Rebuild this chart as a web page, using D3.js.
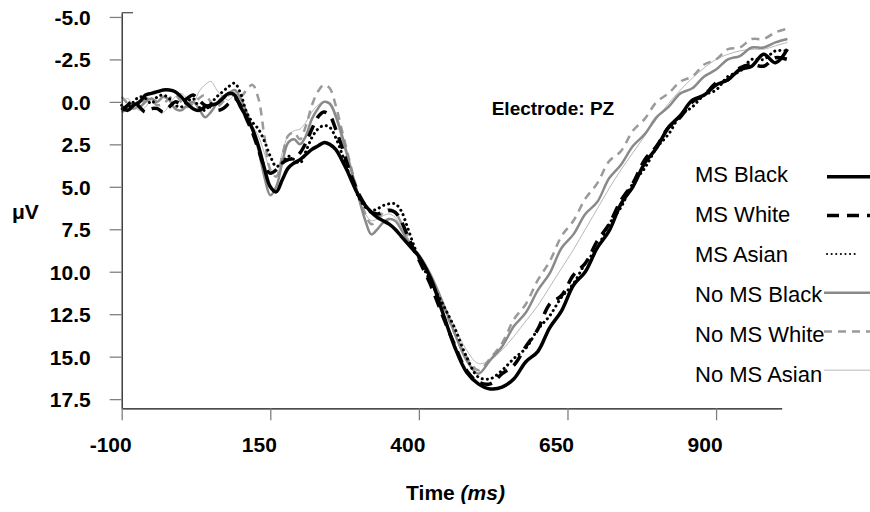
<!DOCTYPE html>
<html>
<head>
<meta charset="utf-8">
<script src="https://cdn.jsdelivr.net/npm/d3@7"></script>
<style>
  html, body { margin: 0; padding: 0; background: #fff; }
  svg { display: block; font-family: Arial, "Liberation Sans", sans-serif; }
</style>
</head>
<body>
<svg id="chart" width="870" height="512"></svg>
<script>
// ---- data ----
const times = [
  -100,-90,-80,-70,-60,-50,-40,-30,-20,-10,0,10,20,30,40,50,60,70,80,90,100,
  110,120,130,140,150,160,170,180,190,200,210,220,230,240,250,260,270,280,290,300,
  310,320,330,340,350,360,370,380,390,400,
  420,440,460,480,500,520,540,560,580,600,620,640,660,680,700,720,740,760,780,800,
  820,840,860,880,900,920,940,960,980,1000,1020
];

const msBlack = [
  0.3,0.5,0.2,0.0,-0.4,-0.5,-0.6,-0.7,-0.7,-0.6,-0.3,0.1,0.4,0.5,0.3,0.2,0.1,-0.2,-0.5,-0.4,0.3,
  0.9,1.6,2.6,3.9,5.0,5.3,4.6,3.9,3.6,3.4,3.1,2.8,2.6,2.4,2.5,2.8,3.4,4.1,4.9,5.6,
  6.1,6.5,6.8,7.0,7.2,7.5,7.9,8.3,8.7,9.1,
  10.4,12.4,14.4,15.9,16.6,16.9,16.8,16.3,15.3,14.7,13.3,12.3,10.8,10.0,8.6,7.6,6.0,5.0,3.6,2.7,
  1.5,0.8,-0.1,-0.4,-1.0,-1.3,-1.9,-2.1,-2.8,-2.3,-3.1
];
const msWhite = [
  0.5,0.2,-0.1,0.3,0.6,0.4,0.4,0.6,0.3,0.0,0.1,-0.2,-0.4,-0.1,0.2,0.3,0.5,0.4,0.1,-0.2,0.2,
  1.0,1.8,2.8,3.8,4.2,4.0,3.6,3.4,3.3,3.0,2.4,1.6,0.9,0.6,0.8,1.6,2.6,3.7,4.7,5.5,
  6.1,6.5,6.6,6.5,6.4,6.5,7.0,7.8,8.6,9.3,
  10.8,12.6,14.3,15.8,16.5,16.6,16.0,15.5,14.4,13.4,11.9,11.4,10.2,9.5,8.2,7.2,5.8,4.8,3.4,2.6,
  1.5,0.9,0.0,-0.4,-1.1,-1.3,-2.0,-2.2,-2.1,-2.6,-2.5
];
const msAsian = [
  0.2,0.4,0.0,-0.3,-0.2,0.1,-0.3,-0.4,-0.2,0.2,0.3,0.0,-0.2,0.3,0.5,0.1,-0.3,-0.6,-0.9,-1.1,-0.5,
  0.6,1.2,1.6,2.3,3.2,3.8,3.6,3.2,3.4,3.6,2.9,2.1,1.6,1.4,1.5,2.1,3.0,4.0,4.9,5.7,
  6.2,6.4,6.3,6.1,6.0,6.0,6.4,7.3,8.3,9.2,
  10.6,11.9,13.3,15.0,16.2,16.3,15.8,15.1,14.5,13.4,12.6,11.5,10.7,9.5,8.6,7.2,6.2,4.8,3.9,2.7,
  1.9,0.8,0.3,-0.4,-0.7,-1.5,-1.8,-2.5,-2.5,-3.0,-3.0
];
const noMsBlack = [
  0.6,0.4,0.1,0.3,0.0,-0.2,0.0,-0.3,-0.1,0.4,0.5,0.2,0.0,0.4,0.9,0.6,0.1,-0.3,-0.5,-0.7,-0.2,
  0.6,1.6,2.8,4.4,5.5,5.0,3.6,2.4,2.2,2.5,2.0,1.0,0.4,0.0,0.1,0.8,1.9,3.2,4.5,5.8,
  7.0,7.8,7.5,7.1,6.9,7.0,7.5,8.1,8.6,9.0,
  10.2,11.8,13.6,15.2,16.0,15.2,14.4,13.2,12.4,11.1,10.1,8.6,7.8,6.6,5.9,4.5,3.7,2.6,1.9,0.9,
  0.3,-0.5,-0.8,-1.5,-1.9,-2.5,-2.7,-3.2,-3.2,-3.5,-3.7
];
const noMsWhite = [
  -0.3,0.1,0.4,0.2,-0.2,-0.1,0.2,0.1,-0.2,-0.4,0.0,0.3,0.1,-0.2,-0.4,0.0,0.3,0.0,-0.4,-0.5,-0.3,
  -0.7,-1.0,-0.2,2.0,4.0,4.4,3.2,2.0,1.8,2.2,1.4,0.2,-0.6,-1.0,-0.8,0.2,1.6,3.0,4.4,5.6,
  6.6,7.2,7.0,6.5,6.3,6.5,7.1,7.8,8.5,9.1,
  10.5,12.0,13.6,15.0,15.8,15.1,14.2,12.8,11.9,10.5,9.4,7.9,7.0,5.7,4.8,3.5,2.9,1.7,1.0,0.0,
  -0.5,-1.2,-1.5,-2.2,-2.5,-3.1,-3.2,-3.7,-3.7,-4.1,-4.3
];
const noMsAsian = [
  0.0,-0.2,0.2,0.5,0.3,-0.1,0.3,0.6,0.2,-0.3,-0.5,-0.2,0.1,-0.6,-1.0,-1.2,-0.7,-0.3,-0.1,-0.4,0.0,
  0.8,1.4,2.0,3.0,4.0,4.4,3.0,2.0,1.7,1.6,1.2,0.6,0.2,0.0,0.2,1.0,2.2,3.4,4.6,5.7,
  6.6,7.0,6.9,6.7,6.6,6.8,7.3,7.9,8.5,9.0,
  10.3,11.8,13.2,14.6,15.4,15.2,14.6,13.8,12.9,12.0,10.9,9.8,8.7,7.5,6.3,5.1,4.0,3.0,2.0,1.0,
  0.1,-0.7,-1.4,-2.0,-2.5,-2.8,-3.0,-3.1,-3.1,-3.3,-3.5
];

const seriesNames = ["MS Black","MS White","MS Asian","No MS Black","No MS White","No MS Asian"];
const seriesValues = [msBlack, msWhite, msAsian, noMsBlack, noMsWhite, noMsAsian];
const xTickValues = [-100, 150, 400, 650, 900];
const yTickValues = [-5, -2.5, 0, 2.5, 5, 7.5, 10, 12.5, 15, 17.5];

// ---- styles ----
const styles = [
  {color:"#000", width:3.5, dash:null, cap:"butt"},
  {color:"#000", width:3.5, dash:"12,8", cap:"butt"},
  {color:"#000", width:3, dash:"0.1,5", cap:"round"},
  {color:"#8a8a8a", width:2.5, dash:null, cap:"butt"},
  {color:"#9a9a9a", width:2.5, dash:"8,6", cap:"butt"},
  {color:"#b8b8b8", width:1, dash:null, cap:"butt"}
];

const hyphen = s => s.replace("\u2212", "-");
const fmtY = d => hyphen(d3.format(".1f")(d));
const fmtX = d => hyphen(d3.format("d")(d));

const svg = d3.select("#chart");
const x = d3.scaleLinear().domain([-100, 1010.4]).range([121.7, 781.7]);
const y = d3.scaleLinear().domain([-5.25, 18.04]).range([12.7, 408.3]);

// Lines
const line = d3.line()
  .x((d, i) => x(times[i]))
  .y(d => y(d))
  .curve(d3.curveCatmullRom.alpha(0.5));

const drawOrder = [5, 4, 3, 2, 1, 0];
drawOrder.forEach(k => {
  const s = styles[k];
  svg.append("path")
    .attr("d", line(seriesValues[k]))
    .attr("fill", "none")
    .attr("stroke", s.color)
    .attr("stroke-width", s.width)
    .attr("stroke-dasharray", s.dash)
    .attr("stroke-linecap", s.cap)
    .attr("stroke-linejoin", "round");
});

// Y axis
const yAxis = d3.axisLeft(y).tickValues(yTickValues).tickSize(12).tickSizeOuter(0)
  .tickFormat(fmtY);
const gy = svg.append("g").attr("transform", "translate(121.7,0)").call(yAxis);
gy.select(".domain").attr("stroke", "#222").attr("stroke-width", 1.3);
gy.selectAll(".tick line").attr("stroke", "#808080").attr("stroke-width", 1.3);
gy.selectAll(".tick text")
  .attr("x", -31).attr("dy", "0.36em")
  .attr("font-size", 21).attr("font-weight", "bold")
  .attr("font-family", "Arial, 'Liberation Sans', sans-serif").attr("fill", "#000");
// top cap
svg.append("line").attr("x1", 121.7).attr("x2", 133).attr("y1", 12.7).attr("y2", 12.7)
  .attr("stroke", "#555").attr("stroke-width", 1.3);

// X axis
const xAxis = d3.axisBottom(x).tickValues(xTickValues).tickSize(12).tickSizeOuter(0)
  .tickFormat(fmtX);
const gx = svg.append("g").attr("transform", "translate(0,408.3)").call(xAxis);
gx.select(".domain").attr("stroke", "#111").attr("stroke-width", 1.3);
gx.selectAll(".tick line").attr("stroke", "#808080").attr("stroke-width", 1.3);
gx.selectAll(".tick text")
  .attr("x", -11.5).attr("y", 43.4).attr("dy", null)
  .attr("font-size", 21).attr("font-weight", "bold")
  .attr("font-family", "Arial, 'Liberation Sans', sans-serif").attr("fill", "#000");

// Axis titles
svg.append("text").attr("x", 12).attr("y", 219)
  .attr("font-size", 21).attr("font-weight", "bold").text("μV");

const tt = svg.append("text").attr("x", 455.5).attr("y", 500).attr("text-anchor", "middle")
  .attr("font-size", 21).attr("font-weight", "bold");
tt.append("tspan").text("Time ");
tt.append("tspan").attr("font-style", "italic").text("(ms)");

svg.append("text").attr("x", 491.7).attr("y", 115)
  .attr("font-size", 19).attr("font-weight", "bold").text("Electrode: PZ");

// Legend
const leg = svg.append("g");
seriesNames.forEach((name, i) => {
  const s = styles[i];
  leg.append("text").attr("x", 695).attr("y", 181.7 + i * 40)
    .attr("font-size", 22).attr("fill", "#000").text(name);
  const ly = 176.7 + i * 38.7;
  leg.append("line").attr("x1", i < 3 ? 827 : 824).attr("x2", i === 2 ? 857 : 872)
    .attr("y1", ly).attr("y2", ly)
    .attr("stroke", s.color)
    .attr("stroke-width", i === 2 ? 2 : (i < 2 ? 3.5 : (i === 5 ? 1 : 2.5)))
    .attr("stroke-dasharray", i === 2 ? "0.1,4.5" : s.dash)
    .attr("stroke-linecap", s.cap);
});
</script>
</body>
</html>
